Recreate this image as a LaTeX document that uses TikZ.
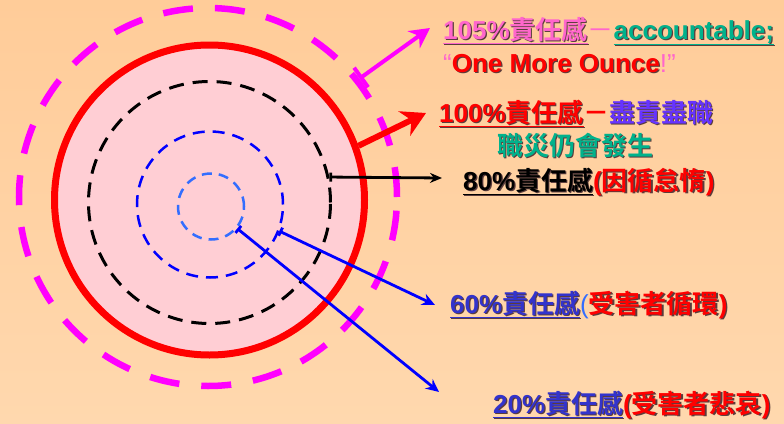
\documentclass[tikz,border=0pt]{standalone}
\usepackage{fontspec}
\setmainfont{Liberation Sans}
\newfontfamily\cjk{Noto Sans CJK TC}[BoldFont={Noto Sans CJK TC Bold}]
\usetikzlibrary{arrows.meta}

\definecolor{bgtop}{RGB}{255,204,153}
\definecolor{bgbot}{RGB}{255,216,174}
\definecolor{discfill}{RGB}{255,206,212}
\definecolor{mag}{RGB}{255,0,255}
\definecolor{pinktxt}{RGB}{255,102,204}
\definecolor{tealtxt}{RGB}{0,178,140}
\definecolor{purptxt}{RGB}{102,51,255}
\definecolor{bluetxt}{RGB}{51,51,204}
\definecolor{lightblue}{RGB}{51,110,255}
\definecolor{txtshadow}{RGB}{90,60,60}

% text with a small drop shadow
\newcommand{\shd}[2]{\makebox[0pt][l]{\kern1.2pt\raisebox{-1.2pt}{\color{txtshadow}#2}}{\color{#1}#2}}

\tikzset{
    ring/.style={circle, draw, inner sep=0pt},
    lbl/.style={anchor=base west, inner sep=0pt, font=\fontsize{26}{30}\selectfont\bfseries},
    ptr/.style={-{Stealth[length=13pt, width=12pt]}, line width=2.8pt}
}

\begin{document}
\begin{tikzpicture}[x=1pt, y=-1pt]
    \useasboundingbox (0, 0) rectangle (784, 423);
    \shade[top color=bgtop, bottom color=bgbot] (0, 0) rectangle (784, 423);

    % rings
    \node[ring, mag, line width=6.5pt, dash pattern=on 30pt off 22pt, minimum size=378pt] (c105) at (208, 197) {};
    \node[ring, red, fill=discfill, line width=7pt, minimum size=310pt] (c100) at (209.5, 200) {};
    \node[ring, black, line width=3pt, dash pattern=on 15pt off 9pt, minimum size=242pt] (c80) at (209.5, 202.5) {};
    \node[ring, blue, line width=2.5pt, dash pattern=on 12pt off 8pt, minimum size=146pt] (c60) at (210, 204.5) {};
    \node[ring, lightblue, line width=2.5pt, dash pattern=on 10pt off 7pt, minimum size=66pt] (c20) at (211, 206.5) {};

    % labels
    \node[lbl] (t105) at (443, 39) {\shd{pinktxt}{\underline{105\%{\cjk 責任感}}}{\color{pinktxt}\mdseries\cjk －}\shd{tealtxt}{\underline{accountable;}}};
    \node[lbl] (t105b) at (443, 72) {{\color{pinktxt}\mdseries “}\shd{red}{One More Ounce}{\color{pinktxt}\mdseries !”}};
    \node[lbl] (t100) at (439, 122) {\shd{red}{\underline{100\%{\cjk 責任感}}}{\color{red}\cjk －}\shd{purptxt}{\cjk 盡責盡職}};
    \node[lbl] (t100b) at (497, 155) {\shd{tealtxt}{\cjk 職災仍會發生}};
    \node[lbl] (t80) at (463, 190) {\shd{black}{\underline{80\%{\cjk 責任感}}}\shd{red}{({\cjk 因循怠惰})}};
    \node[lbl] (t60) at (450, 313) {\shd{bluetxt}{\underline{60\%{\cjk 責任感}}}{\color{lightblue}\mdseries(}\shd{red}{{\cjk 受害者循環})}};
    \node[lbl] (t20) at (493, 413) {\shd{bluetxt}{\underline{20\%{\cjk 責任感}}}\shd{red}{({\cjk 受害者悲哀})}};

    % arrow ends
    \coordinate (e105) at (430, 28);
    \coordinate (e100) at (426, 113);
    \coordinate (e80) at (442, 178);
    \coordinate (e60) at (435, 305);
    \coordinate (e20) at (439, 392);

    % arrows
    \draw[ptr, mag, line width=4pt, {Bar[width=24pt]}-{Stealth[length=20pt, width=21pt]}] (c105.38) -- (e105);
    \draw[ptr, red, line width=6pt, -{Stealth[length=24pt, width=27pt]}] (c100.20) -- (e100);
    \draw[ptr, black, {Bar[width=9pt]}-{Stealth[length=12pt, width=10pt]}] (c80.12) -- (e80);
    \draw[ptr, blue, {Bar[width=9pt]}-{Stealth[length=13pt, width=12pt]}] (c60.339) -- (e60);
    \draw[ptr, blue, {Bar[width=9pt]}-{Stealth[length=13pt, width=12pt]}] (c20.320) -- (e20);
\end{tikzpicture}
\end{document}
